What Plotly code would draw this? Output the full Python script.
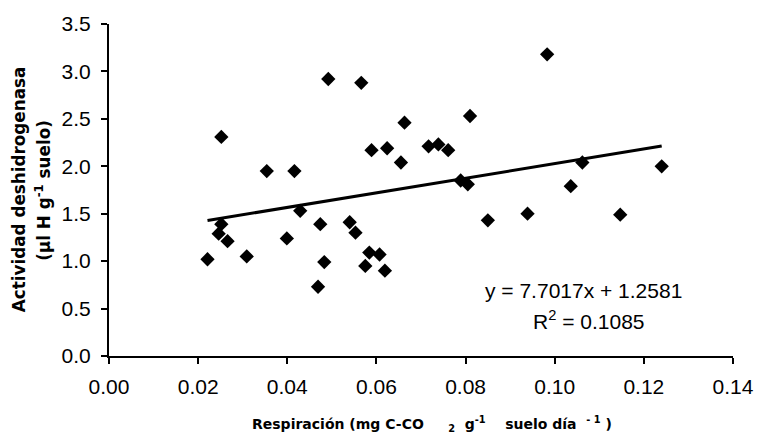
import plotly.graph_objects as go

respiracion = [0.0252, 0.0221, 0.0252, 0.0246, 0.0266, 0.0309, 0.0492, 0.0566, 0.0663, 0.0810,
               0.0589, 0.0624, 0.0655, 0.0717, 0.0739, 0.0761, 0.0354, 0.0416, 0.0789, 0.0805,
               0.0429, 0.0399, 0.0474, 0.0540, 0.0553, 0.0483, 0.0469, 0.0584, 0.0607, 0.0575,
               0.0619, 0.0850, 0.0983, 0.1062, 0.1240, 0.1036, 0.0939, 0.1147]
deshidrogenasa = [2.31, 1.02, 1.39, 1.29, 1.21, 1.05, 2.92, 2.88, 2.46, 2.53,
                  2.17, 2.19, 2.04, 2.21, 2.23, 2.17, 1.95, 1.95, 1.85, 1.81,
                  1.53, 1.24, 1.39, 1.41, 1.30, 0.99, 0.73, 1.09, 1.07, 0.95,
                  0.90, 1.43, 3.18, 2.04, 2.00, 1.79, 1.50, 1.49]
slope = 7.7017
intercept = 1.2581
r2 = 0.1085
x_ticks = [0.00, 0.02, 0.04, 0.06, 0.08, 0.10, 0.12, 0.14]
y_ticks = [0.0, 0.5, 1.0, 1.5, 2.0, 2.5, 3.0, 3.5]

x_line = [min(respiracion), max(respiracion)]
y_line = [slope * v + intercept for v in x_line]

fig = go.Figure()
fig.add_trace(go.Scatter(x=respiracion, y=deshidrogenasa, mode="markers",
                         marker=dict(symbol="diamond", size=11, color="black"),
                         showlegend=False))
fig.add_trace(go.Scatter(x=x_line, y=y_line, mode="lines",
                         line=dict(color="black", width=3), showlegend=False))

tickfont = dict(family="Liberation Sans", size=21, color="black")
fig.update_layout(
    width=766, height=437,
    margin=dict(l=109, r=25, t=24, b=81),
    plot_bgcolor="white", paper_bgcolor="white",
    xaxis=dict(range=[0, 0.14], tickvals=x_ticks, ticktext=[f"{v:.2f}" for v in x_ticks],
               showgrid=False, zeroline=False, showline=True, linecolor="black", linewidth=2,
               ticks="outside", ticklen=6, tickwidth=2, tickcolor="black", tickfont=tickfont,
               ticklabelstandoff=5),
    yaxis=dict(range=[0, 3.5], tickvals=y_ticks, ticktext=[f"{v:.1f}" for v in y_ticks],
               showgrid=False, zeroline=False, showline=True, linecolor="black", linewidth=2,
               ticks="outside", ticklen=6, tickwidth=2, tickcolor="black", tickfont=tickfont,
               ticklabelstandoff=6),
)

nb = "\u00a0"
titlefont = dict(family="DejaVu Sans", size=14, color="black")
fig.add_annotation(text="<b>Respiración (mg C-CO" + nb * 5 + "<sub>2</sub>" + nb * 2 + "g<sup>-1</sup>" + nb * 4
                        + "suelo día" + nb * 2 + "<sup>-" + nb + "1</sup>" + nb + ")</b>",
                   xref="paper", yref="paper", x=0.226, y=-0.205, xanchor="left", yanchor="middle",
                   showarrow=False, font=titlefont)
ytitlefont = dict(family="DejaVu Sans", size=16.8, color="black")
fig.add_annotation(text="<b>Actividad deshidrogenasa</b>", xref="paper", yref="paper",
                   x=-0.144, y=0.5, textangle=-90, showarrow=False, font=ytitlefont,
                   xanchor="center", yanchor="middle")
fig.add_annotation(text="<b>(µl H g<sup>-1</sup> suelo)</b>", xref="paper", yref="paper",
                   x=-0.106, y=0.5, textangle=-90, showarrow=False, font=ytitlefont,
                   xanchor="center", yanchor="middle")

eqfont = dict(family="Liberation Sans", size=21, color="black")
fig.add_annotation(text=f"y = {slope}x + {intercept}", x=0.1065, y=0.694, showarrow=False, font=eqfont)
fig.add_annotation(text=f"R<sup>2</sup> = {r2}", x=0.1076, y=0.377, showarrow=False, font=eqfont)

fig.write_html("out.html")
